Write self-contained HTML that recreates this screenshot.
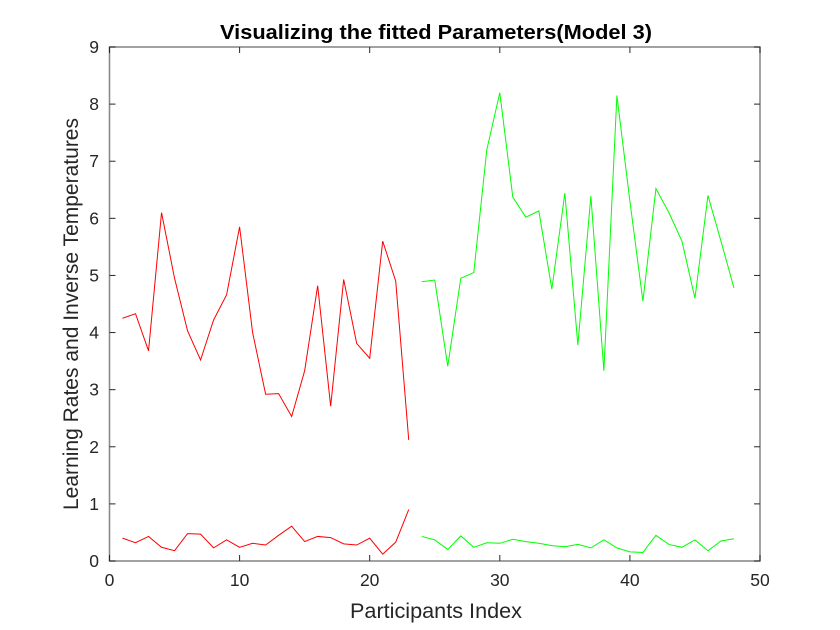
<!DOCTYPE html>
<html><head><meta charset="utf-8"><style>
body{margin:0;background:#fff;}
svg{display:block;font-family:"Liberation Sans",Arial,sans-serif;}
</style></head><body>
<svg id="chart" width="840" height="630">
<rect width="840" height="630" fill="#fff"/>
<g id="series"></g>
<rect x="109.5" y="47" width="650.5" height="514" fill="none" stroke="#8a8a8a" stroke-width="1.6"/>
<g id="axes" font-size="17.5" fill="#262626"></g>
<text x="436" y="39" text-anchor="middle" font-size="20" font-weight="bold" fill="#000" textLength="432" lengthAdjust="spacingAndGlyphs">Visualizing the fitted Parameters(Model 3)</text>
<text x="436" y="618" text-anchor="middle" font-size="21" fill="#262626" textLength="172" lengthAdjust="spacingAndGlyphs">Participants Index</text>
<text transform="translate(78,314) rotate(-90)" text-anchor="middle" font-size="21" fill="#262626" textLength="392" lengthAdjust="spacingAndGlyphs">Learning Rates and Inverse Temperatures</text>
</svg>
<script>
const redTemp=[4.25,4.33,3.68,6.1,4.95,4.03,3.52,4.22,4.66,5.85,4.0,2.92,2.93,2.53,3.33,4.82,2.71,4.93,3.81,3.55,5.6,4.9,2.12];
const greenTemp=[4.89,4.92,3.41,4.95,5.05,7.2,8.2,6.37,6.02,6.13,4.76,6.44,3.78,6.39,3.33,8.15,6.3,4.55,6.52,6.1,5.6,4.6,6.4,5.6,4.78];
const redLR=[0.4,0.32,0.43,0.24,0.18,0.48,0.47,0.23,0.37,0.24,0.31,0.28,0.45,0.61,0.34,0.43,0.41,0.3,0.28,0.4,0.12,0.33,0.9];
const greenLR=[0.43,0.37,0.2,0.44,0.24,0.32,0.31,0.38,0.34,0.31,0.27,0.25,0.29,0.23,0.37,0.23,0.16,0.15,0.45,0.29,0.24,0.37,0.18,0.35,0.39];
const xTicks=[0,10,20,30,40,50];
const yTicks=[0,1,2,3,4,5,6,7,8,9];
const NS='http://www.w3.org/2000/svg';
const X=v=>109.5+v*(650.5/50), Y=v=>561-v*(514/9);
const axes=document.getElementById('axes'), ser=document.getElementById('series');
function mk(t,a,p){const e=document.createElementNS(NS,t);for(const k in a)e.setAttribute(k,a[k]);p.appendChild(e);return e;}
xTicks.forEach(t=>{
  const l=mk('line',{x1:X(t),x2:X(t),y1:561,y2:555,stroke:'#262626'},axes);
  
  
  const l2=mk('line',{x1:X(t),x2:X(t),y1:47,y2:53,stroke:'#262626'},axes);
  
  
  const tx=mk('text',{x:X(t),y:586,'text-anchor':'middle'},axes);tx.textContent=t;
  
  
});
yTicks.forEach(t=>{
  const l=mk('line',{x1:109.5,x2:115.5,y1:Y(t),y2:Y(t),stroke:'#262626'},axes);
  
  
  const l2=mk('line',{x1:760,x2:754,y1:Y(t),y2:Y(t),stroke:'#262626'},axes);
  
  
  const tx=mk('text',{x:99,y:Y(t)+6,'text-anchor':'end'},axes);tx.textContent=t;
  
  
});
function line(arr,start,color,name){
  const pts=arr.map((v,i)=>X(start+i)+','+Y(v)).join(' ');
  const p=mk('polyline',{points:pts,fill:'none',stroke:color,'stroke-width':1},ser);
  
  
}
line(redTemp,1,'#ff0000','red-temperature-line');
line(greenTemp,24,'#00ff00','green-temperature-line');
line(redLR,1,'#ff0000','red-learning-rate-line');
line(greenLR,24,'#00ff00','green-learning-rate-line');
</script>
</body></html>
